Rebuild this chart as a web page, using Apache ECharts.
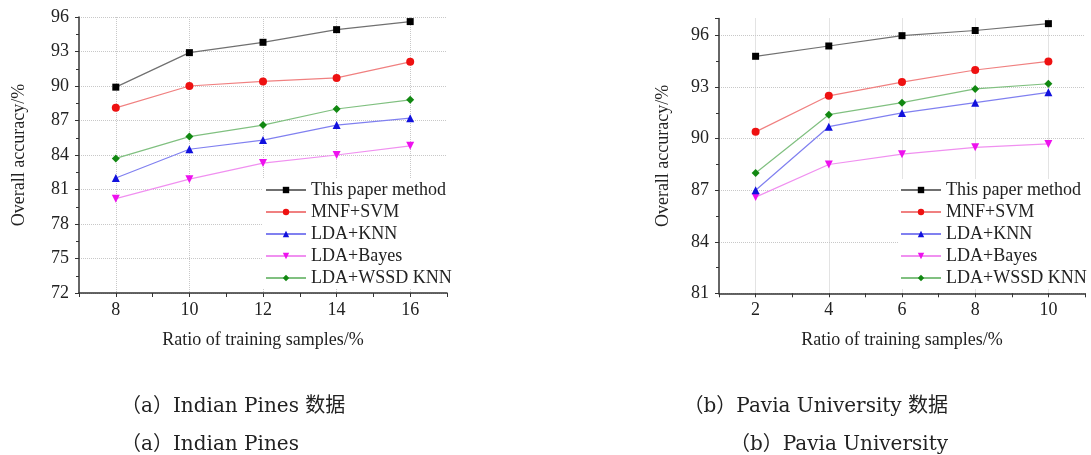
<!DOCTYPE html>
<html>
<head>
<meta charset="utf-8">
<script src="https://cdn.jsdelivr.net/npm/echarts@6/dist/echarts.min.js"></script>
<style>
  html, body { margin: 0; padding: 0; background: #fff; }
  #main { width: 1091px; height: 455px; }
</style>
</head>
<body>
<div id="main"></div>
<script>
// 图例名称
var seriesNames = ['This paper method', 'MNF+SVM', 'LDA+KNN', 'LDA+Bayes', 'LDA+WSSD KNN'];

// (a) Indian Pines
var xIndian = [8, 10, 12, 14, 16];
var indianOurs = [89.9, 92.9, 93.8, 94.9, 95.6];
var indianMnfSvm = [88.1, 90.0, 90.4, 90.7, 92.1];
var indianLdaKnn = [82.0, 84.5, 85.3, 86.6, 87.2];
var indianLdaBayes = [80.2, 81.9, 83.3, 84.0, 84.8];
var indianLdaWssd = [83.7, 85.6, 86.6, 88.0, 88.8];

// (b) Pavia University
var xPavia = [2, 4, 6, 8, 10];
var paviaOurs = [94.8, 95.4, 96.0, 96.3, 96.7];
var paviaMnfSvm = [90.4, 92.5, 93.3, 94.0, 94.5];
var paviaLdaKnn = [87.0, 90.7, 91.5, 92.1, 92.7];
var paviaLdaBayes = [86.6, 88.5, 89.1, 89.5, 89.7];
var paviaLdaWssd = [88.0, 91.4, 92.1, 92.9, 93.2];

// 坐标轴刻度
var xTicksIndian = [8, 10, 12, 14, 16];
var xTicksPavia = [2, 4, 6, 8, 10];
var yTicksIndian = [72, 75, 78, 81, 84, 87, 90, 93, 96];
var yTicksPavia = [81, 84, 87, 90, 93, 96];

// 题注
var captionsLeft = ['（a）Indian Pines 数据', '（a）Indian Pines'];
var captionsRight = ['（b）Pavia University 数据', '（b）Pavia University'];

var FONT = 'Liberation Serif';
var CAP_FONT = '"DejaVu Serif", "Noto Sans CJK SC", serif';

var lineColors = ['#707070', '#f08080', '#8080f0', '#f090f0', '#80c080'];
var symColors = ['#000000', '#ee1111', '#1111dd', '#ee11ee', '#118811'];
var symbols = ['rect', 'circle', 'triangle', 'path://M0,0 L10,0 L5,9 Z', 'diamond'];
var symSizes = [7, 8, 8, 8, 8];

function zip(xs, ys) {
    return xs.map(function (x, i) { return [x, ys[i]]; });
}

function makeSeries(idx, xs, list) {
    return list.map(function (ys, i) {
        return {
            name: seriesNames[i],
            type: 'line',
            xAxisIndex: idx,
            yAxisIndex: idx,
            data: zip(xs, ys),
            symbol: symbols[i],
            symbolSize: symSizes[i],
            lineStyle: { color: lineColors[i], width: 1.2 },
            itemStyle: { color: symColors[i] },
            z: 10 - i
        };
    });
}

function xAxisOpt(idx, min, max, ticks) {
    return {
        type: 'value',
        gridIndex: idx,
        min: min,
        max: max,
        interval: 1,
        name: 'Ratio of training samples/%',
        nameLocation: 'middle',
        nameGap: 38,
        nameTextStyle: { fontFamily: FONT, fontSize: 18, color: '#222' },
        axisLine: { lineStyle: { color: '#333', width: 1.5 } },
        axisTick: { inside: false, length: 4, lineStyle: { color: '#333' } },
        axisLabel: {
            margin: 8,
            fontFamily: FONT,
            fontSize: 18,
            color: '#222',
            formatter: function (v) { return ticks.indexOf(v) >= 0 ? String(v) : ''; }
        },
        splitLine: {
            show: true,
            lineStyle: { type: 'dotted', color: ['rgba(0,0,0,0)', '#c8c8c8'] }
        }
    };
}

function yAxisOpt(idx, min, max, nameGap, gridColors, showMax) {
    return {
        type: 'value',
        gridIndex: idx,
        min: min,
        max: max,
        interval: 3,
        name: 'Overall accuracy/%',
        nameLocation: 'middle',
        nameGap: nameGap,
        nameTextStyle: { fontFamily: FONT, fontSize: 18, color: '#222' },
        axisLine: { show: true, lineStyle: { color: '#333', width: 1.5 } },
        axisTick: { show: true, inside: false, length: 4, lineStyle: { color: '#333' } },
        minorTick: { show: true, splitNumber: 2, length: 3, lineStyle: { color: '#333' } },
        axisLabel: { margin: 10, fontFamily: FONT, fontSize: 18, color: '#222', showMaxLabel: showMax },
        splitLine: { show: true, lineStyle: { type: 'dotted', color: gridColors } }
    };
}

function legendOpt(left, idxNames) {
    return {
        orient: 'vertical',
        left: left,
        top: 179,
        itemWidth: 40,
        itemHeight: 8,
        itemGap: 4,
        padding: [2, 4, 2, 2],
        backgroundColor: '#fff',
        textStyle: { fontFamily: FONT, fontSize: 18, color: '#222', lineHeight: 18 },
        data: idxNames
    };
}

var myChart = echarts.init(document.getElementById('main'));

var gray = '#c8c8c8';
var option = {
    backgroundColor: '#fff',
    animation: false,
    grid: [
        { left: 79, top: 17, width: 368, height: 276 },
        { left: 719, top: 18.5, width: 366, height: 274.8 }
    ],
    xAxis: [
        xAxisOpt(0, 7, 17, xTicksIndian),
        xAxisOpt(1, 1, 11, xTicksPavia)
    ],
    yAxis: [
        yAxisOpt(0, yTicksIndian[0], yTicksIndian[yTicksIndian.length - 1], 51, [gray], true),
        yAxisOpt(1, yTicksPavia[0], 97, 47, [gray, gray, gray, gray, gray, gray, 'rgba(0,0,0,0)'], false)
    ],
    legend: [],
    series: [],
    graphic: []
};

// 两个图各自的图例（同名系列分别放在不同图例里会冲突，所以用第二套名字）
option.series = makeSeries(0, xIndian, [indianOurs, indianMnfSvm, indianLdaKnn, indianLdaBayes, indianLdaWssd])
    .concat(makeSeries(1, xPavia, [paviaOurs, paviaMnfSvm, paviaLdaKnn, paviaLdaBayes, paviaLdaWssd]).map(function (s) {
        s.name = s.name + ' ';
        return s;
    }));

option.legend = [
    legendOpt(263, seriesNames),
    Object.assign(legendOpt(898, seriesNames.map(function (n) { return n + ' '; })), {
        formatter: function (n) { return n.trim(); }
    })
];

// 题注文字
captionsLeft.forEach(function (t, i) {
    option.graphic.push({
        type: 'text',
        left: 121,
        top: i === 0 ? 397 : 435,
        style: { text: t, font: '20px ' + CAP_FONT, fill: '#222' }
    });
});
captionsRight.forEach(function (t, i) {
    option.graphic.push({
        type: 'text',
        right: 1091 - 948,
        top: i === 0 ? 397 : 435,
        style: { text: t, font: '20px ' + CAP_FONT, fill: '#222' }
    });
});

option && myChart.setOption(option);
</script>
</body>
</html>
